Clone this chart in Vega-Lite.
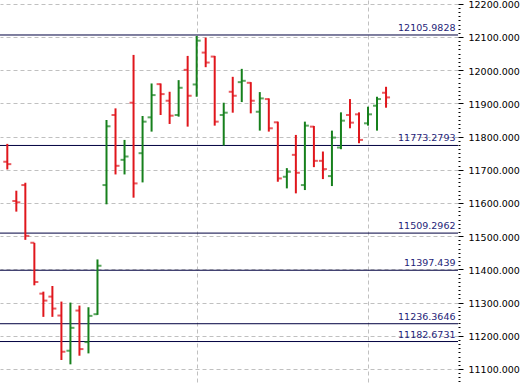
{
  "$schema": "https://vega.github.io/schema/vega-lite/v6.json",
  "width": 458,
  "height": 384,
  "autosize": {"type": "none"},
  "padding": {"left": 0, "top": 0, "right": 67, "bottom": 0},
  "background": "white",
  "config": {"view": {"stroke": null}, "font": "DejaVu Sans"},
  "resolve": {"axis": {"y": "independent"}},
  "datasets": {
    "bars": [
      {"i": 0, "o": 11724, "h": 11778, "l": 11701, "c": 11717, "dir": "down"},
      {"i": 1, "o": 11606, "h": 11637, "l": 11574, "c": 11602, "dir": "down"},
      {"i": 2, "o": 11654, "h": 11661, "l": 11489, "c": 11501, "dir": "down"},
      {"i": 3, "o": 11480, "h": 11480, "l": 11352, "c": 11362, "dir": "down"},
      {"i": 4, "o": 11327, "h": 11333, "l": 11257, "c": 11306, "dir": "down"},
      {"i": 5, "o": 11318, "h": 11350, "l": 11257, "c": 11282, "dir": "down"},
      {"i": 6, "o": 11261, "h": 11303, "l": 11127, "c": 11152, "dir": "down"},
      {"i": 7, "o": 11155, "h": 11300, "l": 11114, "c": 11224, "dir": "up"},
      {"i": 8, "o": 11276, "h": 11291, "l": 11140, "c": 11160, "dir": "down"},
      {"i": 9, "o": 11181, "h": 11286, "l": 11147, "c": 11260, "dir": "up"},
      {"i": 10, "o": 11265, "h": 11430, "l": 11263, "c": 11411, "dir": "up"},
      {"i": 11, "o": 11654, "h": 11850, "l": 11596, "c": 11831, "dir": "up"},
      {"i": 12, "o": 11865, "h": 11885, "l": 11686, "c": 11712, "dir": "down"},
      {"i": 13, "o": 11730, "h": 11790, "l": 11686, "c": 11740, "dir": "up"},
      {"i": 14, "o": 11902, "h": 12046, "l": 11616, "c": 11659, "dir": "down"},
      {"i": 15, "o": 11750, "h": 11862, "l": 11662, "c": 11845, "dir": "up"},
      {"i": 16, "o": 11858, "h": 11960, "l": 11815, "c": 11925, "dir": "up"},
      {"i": 17, "o": 11958, "h": 11960, "l": 11865, "c": 11928, "dir": "down"},
      {"i": 18, "o": 11908, "h": 11935, "l": 11838, "c": 11863, "dir": "down"},
      {"i": 19, "o": 11865, "h": 11970, "l": 11860, "c": 11947, "dir": "up"},
      {"i": 20, "o": 12001, "h": 12043, "l": 11830, "c": 11923, "dir": "down"},
      {"i": 21, "o": 11957, "h": 12103, "l": 11920, "c": 12089, "dir": "up"},
      {"i": 22, "o": 12053, "h": 12098, "l": 12009, "c": 12023, "dir": "down"},
      {"i": 23, "o": 12041, "h": 12043, "l": 11833, "c": 11845, "dir": "down"},
      {"i": 24, "o": 11865, "h": 11902, "l": 11773, "c": 11872, "dir": "up"},
      {"i": 25, "o": 11935, "h": 11980, "l": 11872, "c": 11923, "dir": "down"},
      {"i": 26, "o": 11964, "h": 12004, "l": 11904, "c": 11968, "dir": "up"},
      {"i": 27, "o": 11962, "h": 11964, "l": 11870, "c": 11908, "dir": "down"},
      {"i": 28, "o": 11875, "h": 11934, "l": 11818, "c": 11915, "dir": "up"},
      {"i": 29, "o": 11913, "h": 11915, "l": 11815, "c": 11825, "dir": "down"},
      {"i": 30, "o": 11843, "h": 11845, "l": 11664, "c": 11674, "dir": "down"},
      {"i": 31, "o": 11679, "h": 11705, "l": 11644, "c": 11694, "dir": "up"},
      {"i": 32, "o": 11745, "h": 11805, "l": 11629, "c": 11691, "dir": "down"},
      {"i": 33, "o": 11654, "h": 11845, "l": 11639, "c": 11833, "dir": "up"},
      {"i": 34, "o": 11830, "h": 11832, "l": 11708, "c": 11727, "dir": "down"},
      {"i": 35, "o": 11727, "h": 11755, "l": 11672, "c": 11702, "dir": "down"},
      {"i": 36, "o": 11681, "h": 11818, "l": 11651, "c": 11797, "dir": "up"},
      {"i": 37, "o": 11767, "h": 11873, "l": 11762, "c": 11848, "dir": "up"},
      {"i": 38, "o": 11865, "h": 11913, "l": 11825, "c": 11842, "dir": "down"},
      {"i": 39, "o": 11867, "h": 11873, "l": 11780, "c": 11790, "dir": "down"},
      {"i": 40, "o": 11840, "h": 11890, "l": 11833, "c": 11867, "dir": "up"},
      {"i": 41, "o": 11893, "h": 11920, "l": 11818, "c": 11913, "dir": "up"},
      {"i": 42, "o": 11932, "h": 11950, "l": 11887, "c": 11918, "dir": "down"}
    ],
    "levels": [
      {"v": 12105.9828, "label": "12105.9828"},
      {"v": 11773.2793, "label": "11773.2793"},
      {"v": 11509.2962, "label": "11509.2962"},
      {"v": 11397.439, "label": "11397.439"},
      {"v": 11236.3646, "label": "11236.3646"},
      {"v": 11182.6731, "label": "11182.6731"}
    ]
  },
  "layer": [
    {
      "data": {"name": "levels"},
      "mark": {"type": "rule", "color": "#000040", "strokeWidth": 1},
      "encoding": {
        "y": {"field": "v", "type": "quantitative", "axis": null}
      }
    },
    {
      "data": {"name": "bars"},
      "mark": {"type": "rule", "strokeWidth": 2},
      "encoding": {
        "x": {
          "field": "i", "type": "quantitative",
          "scale": {"domain": [-0.81, 49.98], "nice": false, "zero": false},
          "axis": {"values": [21, 40], "grid": true, "labels": false, "ticks": false, "domain": false, "title": null, "gridColor": "#c0c0c0", "gridDash": [4, 3], "gridWidth": 1}
        },
        "y": {
          "field": "l", "type": "quantitative",
          "scale": {"domain": [11054.8, 12211.4], "nice": false, "zero": false},
          "axis": {
            "orient": "right",
            "title": null,
            "domain": false,
            "values": [11100, 11200, 11300, 11400, 11500, 11600, 11700, 11800, 11900, 12000, 12100, 12200],
            "format": ".3f",
            "labelOverlap": false,
            "labelFlush": false,
            "labelBound": false,
            "labelFont": "DejaVu Sans",
            "labelFontSize": 9.5,
            "labelColor": "#000000",
            "labelPadding": 5,
            "labelOffset": 1,
            "tickColor": "#000000",
            "tickWidth": 1,
            "tickSize": 5,
            "grid": true,
            "gridColor": "#c0c0c0",
            "gridDash": [4, 3],
            "gridWidth": 1
          }
        },
        "y2": {"field": "h"},
        "color": {
          "field": "dir", "type": "nominal",
          "scale": {"domain": ["up", "down"], "range": ["#16801c", "#e0161c"]},
          "legend": null
        }
      }
    },
    {
      "data": {"name": "bars"},
      "mark": {"type": "tick", "orient": "horizontal", "size": 4, "thickness": 2, "xOffset": -2},
      "encoding": {
        "x": {"field": "i", "type": "quantitative"},
        "y": {
          "field": "o", "type": "quantitative",
          "axis": {
            "orient": "right",
            "title": null,
            "domain": false,
            "labels": false,
            "grid": false,
            "values": [11062.5, 11075, 11087.5,
              11112.5, 11125, 11137.5, 11150, 11162.5, 11175, 11187.5,
              11212.5, 11225, 11237.5, 11250, 11262.5, 11275, 11287.5,
              11312.5, 11325, 11337.5, 11350, 11362.5, 11375, 11387.5,
              11412.5, 11425, 11437.5, 11450, 11462.5, 11475, 11487.5,
              11512.5, 11525, 11537.5, 11550, 11562.5, 11575, 11587.5,
              11612.5, 11625, 11637.5, 11650, 11662.5, 11675, 11687.5,
              11712.5, 11725, 11737.5, 11750, 11762.5, 11775, 11787.5,
              11812.5, 11825, 11837.5, 11850, 11862.5, 11875, 11887.5,
              11912.5, 11925, 11937.5, 11950, 11962.5, 11975, 11987.5,
              12012.5, 12025, 12037.5, 12050, 12062.5, 12075, 12087.5,
              12112.5, 12125, 12137.5, 12150, 12162.5, 12175, 12187.5],
            "tickColor": "#000000",
            "tickWidth": 1,
            "tickSize": 2
          }
        },
        "color": {"field": "dir", "type": "nominal", "legend": null}
      }
    },
    {
      "data": {"name": "bars"},
      "mark": {"type": "tick", "orient": "horizontal", "size": 4, "thickness": 2, "xOffset": 2},
      "encoding": {
        "x": {"field": "i", "type": "quantitative"},
        "y": {"field": "c", "type": "quantitative", "axis": null},
        "color": {"field": "dir", "type": "nominal", "legend": null}
      }
    },
    {
      "data": {"name": "levels"},
      "mark": {"type": "text", "align": "right", "baseline": "alphabetic", "dy": -4, "color": "#1e1e78", "fontSize": 9.5, "font": "DejaVu Sans"},
      "encoding": {
        "x": {"datum": 49.7, "type": "quantitative"},
        "y": {"field": "v", "type": "quantitative", "axis": null},
        "text": {"field": "label"}
      }
    }
  ]
}
